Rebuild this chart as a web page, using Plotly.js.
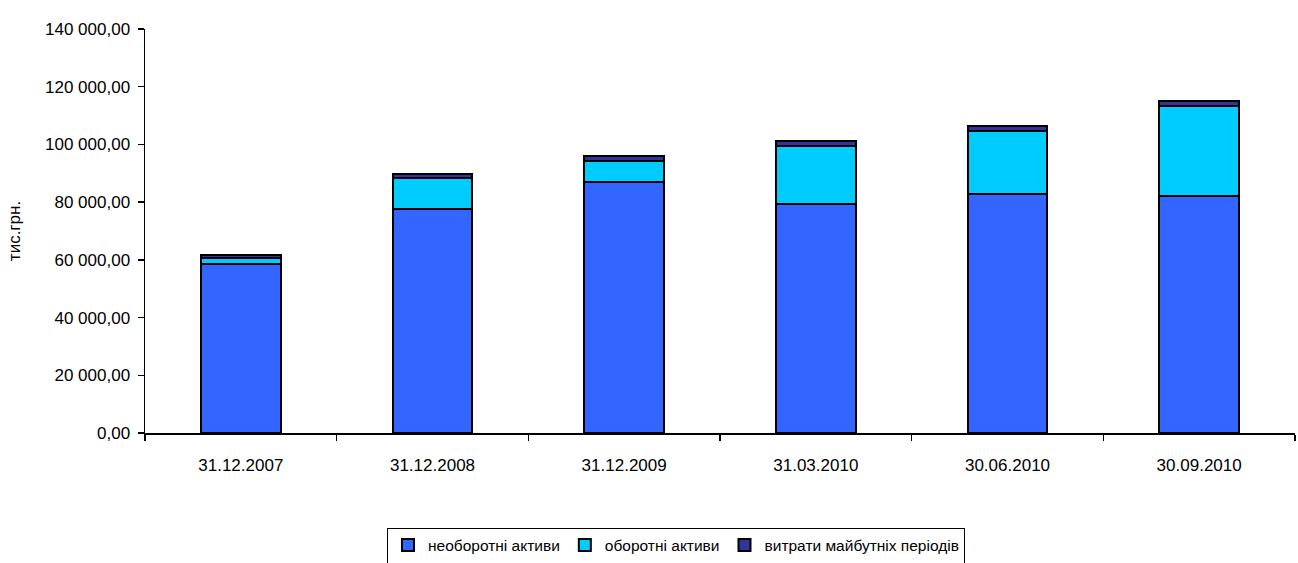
<!DOCTYPE html>
<html>
<head>
<meta charset="utf-8">
<script src="https://cdn.plot.ly/plotly-3.0.1.min.js"></script>
<style>html,body{margin:0;padding:0;background:#fff;}#chart{width:1298px;height:563px;}</style>
</head>
<body>
<div id="chart"></div>
<script>
const categories = ["31.12.2007", "31.12.2008", "31.12.2009", "31.03.2010", "30.06.2010", "30.09.2010"];
const nonCurrentAssets = [58700, 77500, 87100, 79300, 82800, 82100];
const currentAssets = [2000, 10900, 7200, 20300, 21900, 31200];
const prepaidExpenses = [1100, 1500, 1800, 1600, 1600, 1700];
const seriesNames = ["необоротні активи", "оборотні активи", "витрати майбутніх періодів"];
const seriesColors = ["#3366FF", "#00CCFF", "#333399"];
const yTickValues = [0, 20000, 40000, 60000, 80000, 100000, 120000, 140000];

const seriesValues = [nonCurrentAssets, currentAssets, prepaidExpenses];
const traces = seriesValues.map((vals, i) => ({
  type: "bar",
  x: categories,
  y: vals,
  name: seriesNames[i],
  marker: {color: seriesColors[i], line: {color: "#000000", width: 2}},
  hoverinfo: "y+name"
}));

const layout = {
  width: 1298,
  height: 563,
  barmode: "stack",
  bargap: 0.585,
  separators: ", ",
  paper_bgcolor: "#ffffff",
  plot_bgcolor: "#ffffff",
  font: {family: "Liberation Sans, Arial, sans-serif", size: 17, color: "#000000"},
  margin: {l: 145, r: 3, t: 29, b: 130, autoexpand: false},
  xaxis: {
    type: "category",
    showline: true, linecolor: "#000000", linewidth: 1.5,
    ticks: "outside", tickson: "boundaries", ticklen: 6, tickcolor: "#000000", tickwidth: 1.5,
    ticklabelstandoff: 16,
    showgrid: false, zeroline: false,
    tickfont: {size: 17}
  },
  yaxis: {
    range: [0, 140000],
    tickvals: yTickValues,
    tickformat: ",.2f",
    showline: true, linecolor: "#000000", linewidth: 1.5,
    ticks: "outside", ticklen: 6, tickcolor: "#000000", tickwidth: 1.5,
    ticklabelstandoff: 4,
    showgrid: false, zeroline: false,
    tickfont: {size: 17},
    title: {text: "тис.грн.", font: {size: 17}, standoff: 20}
  },
  legend: {
    orientation: "h",
    x: 0.5208, xref: "container", xanchor: "center",
    y: 0.031, yref: "container", yanchor: "middle",
    bordercolor: "#000000", borderwidth: 1,
    font: {size: 15.5},
    traceorder: "normal",
    itemwidth: 30,
    tracegroupgap: 0
  },
  showlegend: true
};

Plotly.newPlot("chart", traces, layout, {displayModeBar: false, staticPlot: true});
</script>
</body>
</html>
